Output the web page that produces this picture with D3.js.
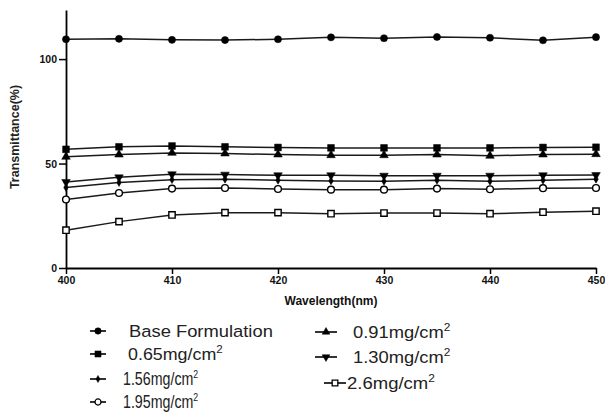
<!DOCTYPE html>
<html>
<head>
<meta charset="utf-8">
<script src="https://cdn.jsdelivr.net/npm/d3@7"></script>
<style>
  body { margin: 0; background: #fff; }
  svg { font-family: "Liberation Sans", Arial, sans-serif; }
</style>
</head>
<body>
<svg id="myGraph" width="605" height="416"></svg>
<script>
// data
var wavelengths = [400, 405, 410, 415, 420, 425, 430, 435, 440, 445, 450];
var baseFormulation = [109.5, 109.7, 109.2, 109.1, 109.5, 110.4, 110.0, 110.6, 110.2, 109.0, 110.5];
var dose065 = [56.8, 58.0, 58.4, 58.0, 57.7, 57.5, 57.5, 57.5, 57.5, 57.7, 57.8];
var dose091 = [53.2, 54.3, 55.1, 54.8, 54.3, 54.0, 54.0, 54.3, 53.7, 54.3, 54.5];
var dose130 = [41.2, 43.4, 44.9, 44.7, 44.4, 44.4, 44.2, 44.2, 44.2, 44.4, 44.5];
var dose156 = [38.5, 40.9, 42.3, 42.5, 42.0, 41.7, 41.5, 42.0, 41.5, 42.0, 42.5];
var dose195 = [32.8, 35.9, 38.0, 38.3, 37.8, 37.5, 37.5, 38.0, 37.7, 38.2, 38.3];
var dose260 = [18.1, 22.2, 25.4, 26.5, 26.5, 26.0, 26.3, 26.3, 26.0, 26.7, 27.2];
var seriesNames = ["Base Formulation", "0.65mg/cm", "0.91mg/cm", "1.30mg/cm", "1.56mg/cm", "1.95mg/cm", "2.6mg/cm"];
var xTicks = [400, 410, 420, 430, 440, 450];
var yTicks = [0, 50, 100];

var seriesValues = [baseFormulation, dose065, dose091, dose130, dose156, dose195, dose260];

// marker style per series
var markers = [
  {type: d3.symbolCircle, size: 40, fill: "#000", rot: 0},
  {type: d3.symbolSquare, size: 46, fill: "#000", rot: 0},
  {type: d3.symbolTriangle, size: 32, fill: "#000", rot: 0},
  {type: d3.symbolTriangle, size: 32, fill: "#000", rot: 180},
  {type: d3.symbolDiamond, size: 18, fill: "#000", rot: 0},
  {type: d3.symbolCircle, size: 36, fill: "#fff", rot: 0},
  {type: d3.symbolSquare, size: 40, fill: "#fff", rot: 0}
];

// legend layout: [series index, line x, marker x, text x, y, font size, x scale, superscript]
var legendLayout = [
  [0, 90, 98, 129, 331, 17, 1.08, false],
  [1, 90, 98, 128, 354, 17, 1.05, true],
  [4, 90, 98, 123, 379, 18, 0.79, true],
  [5, 90, 98, 123, 402, 18, 0.79, true],
  [2, 315, 326, 353, 332, 17, 1.08, true],
  [3, 315, 326, 353, 357, 17, 1.08, true],
  [6, 324, 335, 347, 383, 17, 1.09, true]
];

var svg = d3.select("#myGraph");
const LEFT = 66, RIGHT = 596, TOP = 10, BOTTOM = 268;

var xscale = d3.scaleLinear().domain([400, 450]).range([LEFT, RIGHT]);
var yscale = d3.scaleLinear().domain([0, 123.5]).range([BOTTOM, TOP]);

// axes
var xAxis = svg.append("g")
  .attr("transform", "translate(0," + BOTTOM + ")")
  .call(d3.axisBottom(xscale).tickValues(xTicks).tickSize(6).tickPadding(3).tickSizeOuter(0));
var yAxis = svg.append("g")
  .attr("transform", "translate(" + LEFT + ",0)")
  .call(d3.axisLeft(yscale).tickValues(yTicks).tickSize(7).tickPadding(2).tickSizeOuter(0));

[xAxis, yAxis].forEach(function(ax){
  ax.select(".domain").attr("stroke", "#000").attr("stroke-width", 1.8);
  ax.selectAll(".tick line").attr("stroke", "#000").attr("stroke-width", 1.5);
  ax.selectAll(".tick text")
    .attr("fill", "#111")
    .style("font-family", "'Liberation Sans', Arial, sans-serif")
    .style("font-size", "10.5px")
    .style("font-weight", "bold");
});
yAxis.selectAll(".tick text").attr("dy", "0.35em");

svg.append("text")
  .attr("x", (LEFT + RIGHT) / 2)
  .attr("y", 305)
  .attr("text-anchor", "middle")
  .style("font-size", "12px")
  .style("font-weight", "bold")
  .attr("fill", "#111")
  .text("Wavelength(nm)");

svg.append("text")
  .attr("transform", "translate(19,137) rotate(-90)")
  .attr("text-anchor", "middle")
  .style("font-size", "12.5px")
  .style("font-weight", "bold")
  .attr("fill", "#222")
  .text("Transmittance(%)");

// lines
var line = d3.line()
  .x(function(d, i){ return xscale(wavelengths[i]); })
  .y(function(d){ return yscale(d); });

svg.selectAll(".series")
  .data(seriesValues)
  .enter()
  .append("path")
  .attr("class", "series")
  .attr("d", line)
  .attr("fill", "none")
  .attr("stroke", "#1a1a1a")
  .attr("stroke-width", 1.5);

// markers
seriesValues.forEach(function(vals, s){
  var m = markers[s];
  svg.selectAll(".pt" + s)
    .data(vals)
    .enter()
    .append("path")
    .attr("class", "pt" + s)
    .attr("d", d3.symbol().type(m.type).size(m.size))
    .attr("transform", function(d, i){
      return "translate(" + xscale(wavelengths[i]) + "," + yscale(d) + ") rotate(" + m.rot + ")";
    })
    .attr("fill", m.fill)
    .attr("stroke", "#000")
    .attr("stroke-width", m.fill === "#fff" ? 1.4 : 0.5);
});

// legend
legendLayout.forEach(function(l){
  var s = l[0], m = markers[s];
  var g = svg.append("g");
  g.append("line")
    .attr("x1", l[1]).attr("x2", l[1] + 2 * (l[2] - l[1]))
    .attr("y1", l[4]).attr("y2", l[4])
    .attr("stroke", "#000").attr("stroke-width", 1.6);
  g.append("path")
    .attr("d", d3.symbol().type(m.type).size(m.size * 0.8))
    .attr("transform", "translate(" + l[2] + "," + l[4] + ") rotate(" + m.rot + ")")
    .attr("fill", m.fill)
    .attr("stroke", "#000")
    .attr("stroke-width", m.fill === "#fff" ? 1.3 : 0.5);
  var t = g.append("text")
    .attr("transform", "translate(" + l[3] + "," + (l[4] + 5.5) + ") scale(" + l[6] + ",1)")
    .style("font-size", l[5] + "px")
    .attr("fill", "#222")
    .text(seriesNames[s]);
  if (l[7]) {
    t.append("tspan")
      .attr("dy", -7)
      .style("font-size", "11px")
      .text("2");
  }
});
</script>
</body>
</html>
